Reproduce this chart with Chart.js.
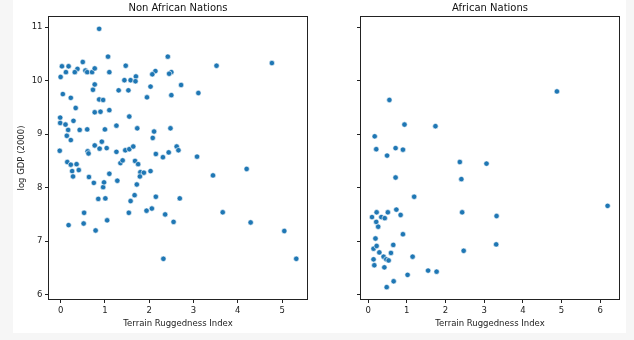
<!DOCTYPE html>
<html><head><meta charset="utf-8">
<script src="https://cdn.jsdelivr.net/npm/chart.js@4.4.1/dist/chart.umd.min.js"></script>
<style>
html,body{margin:0;padding:0;background:#f6f6f6;width:634px;height:340px;overflow:hidden}
#fig{position:absolute;left:13px;top:0;width:613px;height:333px;background:#fff}
canvas{position:absolute;top:0}
#c1{left:0;width:320px;height:340px}
#c2{left:320px;width:314px;height:340px}
</style></head><body>
<div id="fig"></div>
<canvas id="c1" width="320" height="340"></canvas>
<canvas id="c2" width="314" height="340"></canvas>
<script>
const nonAfricaRugged = [0.87,0.03,0.18,0.50,0.38,0.12,0.32,0.00,0.56,0.60,0.71,0.77,1.07,1.10,1.47,1.44,1.58,1.70,1.69,2.14,2.07,2.42,2.50,2.45,2.72,3.52,4.77,0.77,0.73,0.05,0.23,1.31,1.53,2.03,1.95,2.50,3.11,0.87,0.96,0.34,1.10,0.77,0.90,1.55,-0.01,-0.01,0.11,0.29,0.17,0.43,0.60,1.00,1.26,1.73,2.11,2.48,0.14,0.23,2.08,0.93,0.77,0.88,1.04,1.46,1.55,1.64,2.62,2.66,-0.02,0.61,0.63,1.26,2.15,2.44,2.31,3.08,0.15,0.23,0.36,0.26,0.41,0.28,0.64,0.75,0.96,0.98,1.10,1.28,1.35,1.40,1.68,1.75,1.80,1.88,1.79,2.03,1.72,1.67,1.58,2.15,2.69,3.44,4.20,0.85,1.01,0.53,0.52,0.18,0.79,1.05,1.54,1.94,2.06,2.36,2.55,3.66,4.29,5.05,2.32,5.32];
const nonAfricaGDP = [10.97,10.27,10.27,10.35,10.22,10.16,10.16,10.07,10.19,10.16,10.16,10.23,10.45,10.16,10.28,10.01,10.01,10.08,9.99,10.18,10.12,10.45,10.16,10.13,9.92,10.28,10.33,9.93,9.83,9.75,9.68,9.82,9.82,9.89,9.69,9.73,9.77,9.65,9.64,9.49,9.45,9.41,9.42,9.33,9.31,9.21,9.18,9.25,9.08,9.08,9.09,9.09,9.16,9.11,9.05,9.11,8.97,8.89,8.93,8.86,8.79,8.73,8.74,8.70,8.72,8.77,8.77,8.70,8.69,8.68,8.64,8.67,8.63,8.66,8.57,8.58,8.48,8.43,8.44,8.31,8.33,8.21,8.20,8.09,8.01,8.10,8.26,8.13,8.46,8.51,8.50,8.44,8.29,8.28,8.21,8.31,8.06,7.86,7.75,7.83,7.80,8.23,8.35,7.79,7.80,7.53,7.33,7.30,7.20,7.39,7.53,7.57,7.61,7.50,7.36,7.54,7.35,7.19,6.67,6.67];
const africaRugged = [4.88,0.55,0.94,1.74,0.17,0.21,0.71,0.90,0.49,2.37,3.06,0.71,2.41,1.19,6.19,0.73,0.22,0.51,2.43,0.84,3.32,0.10,0.34,0.43,0.21,0.26,0.90,0.19,0.65,3.31,0.14,0.22,0.29,0.59,2.47,0.40,1.15,0.14,0.47,0.53,0.16,0.42,1.55,1.77,1.02,0.66,0.48];
const africaGDP = [9.80,9.64,9.18,9.15,8.96,8.72,8.74,8.71,8.60,8.48,8.45,8.19,8.16,7.83,7.66,7.59,7.54,7.54,7.54,7.49,7.47,7.45,7.45,7.43,7.36,7.27,7.13,7.05,6.93,6.94,6.86,6.91,6.79,6.78,6.82,6.71,6.71,6.66,6.66,6.64,6.55,6.51,6.45,6.43,6.37,6.25,6.14];
const yTicks = [6,7,8,9,10,11];
const xTicksNonAfrica = [0,1,2,3,4,5];
const xTicksAfrica = [0,1,2,3,4,5,6];
const titles = ['Non African Nations','African Nations'];
const xLabel = 'Terrain Ruggedness Index';
const yLabel = 'log GDP (2000)';

Chart.defaults.font.family = '"DejaVu Sans", sans-serif';

const framePlugin = {
  id: 'frame',
  afterDraw(chart, args, opts) {
    const {ctx, chartArea: a} = chart;
    ctx.save();
    ctx.strokeStyle = '#222';
    ctx.lineWidth = 1;
    ctx.strokeRect(a.left + 0.5, a.top + 0.5, a.right - a.left - 1, a.bottom - a.top - 1);
    ctx.fillStyle = '#111';
    ctx.font = '10px "DejaVu Sans", sans-serif';
    ctx.textAlign = 'center';
    ctx.textBaseline = 'middle';
    ctx.fillText(opts.text, (a.left + a.right) / 2, 8);
    ctx.restore();
  }
};

function makeChart(id, xs, ys, xTicks, xmin, xmax, yWidth, padRight, showY, title) {
  return new Chart(document.getElementById(id), {
    type: 'scatter',
    data: {datasets: [{
      data: xs.map((x, i) => ({x: x, y: ys[i]})),
      backgroundColor: '#1f77b4', borderColor: '#ffffff', borderWidth: 0.6,
      pointRadius: 2.7, pointHoverRadius: 2.7
    }]},
    options: {
      responsive: false, animation: false, devicePixelRatio: 1,
      layout: {padding: {top: 16, right: padRight, left: 0, bottom: 0}},
      plugins: {legend: {display: false}, tooltip: {enabled: false}, frame: {text: title}},
      scales: {
        x: {
          type: 'linear', min: xmin, max: xmax,
          afterBuildTicks: s => { s.ticks = xTicks.map(v => ({value: v})); },
          afterFit: s => { s.height = 40; },
          grid: {drawOnChartArea: false, drawTicks: true, tickLength: 3, color: '#222'},
          border: {display: false},
          ticks: {color: '#222', font: {size: 8.5}, padding: 3, maxRotation: 0, autoSkip: false},
          title: {display: true, text: xLabel, color: '#222', font: {size: 8.5}, padding: {top: 0, bottom: 10.7}}
        },
        y: {
          type: 'linear', min: 5.9, max: 11.21,
          afterBuildTicks: s => { s.ticks = yTicks.map(v => ({value: v})); },
          afterFit: s => { s.width = yWidth; },
          grid: {drawOnChartArea: false, drawTicks: true, tickLength: 3, color: '#222'},
          border: {display: false},
          ticks: {display: showY, color: '#222', font: {size: 8.5}, padding: 2.5, autoSkip: false},
          title: {display: showY, text: yLabel, color: '#222', font: {size: 8.5}, padding: {top: 16.6, bottom: 0}}
        }
      }
    },
    plugins: [framePlugin]
  });
}

makeChart('c1', nonAfricaRugged, nonAfricaGDP, xTicksNonAfrica, -0.285, 5.585, 48, 12, true, titles[0]);
makeChart('c2', africaRugged, africaGDP, xTicksAfrica, -0.21, 6.51, 40, 14, false, titles[1]);
</script>
</body></html>
